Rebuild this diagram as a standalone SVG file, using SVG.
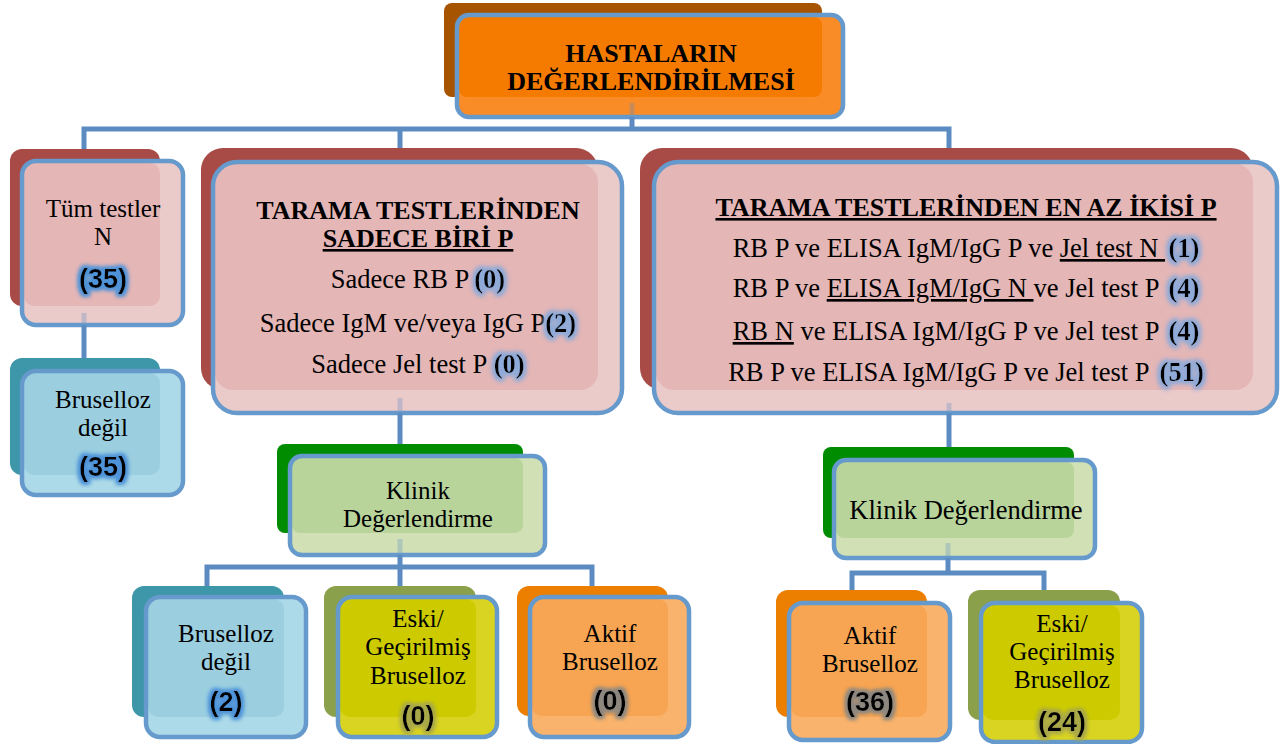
<svg xmlns="http://www.w3.org/2000/svg" width="1282" height="744" viewBox="0 0 1282 744">
<defs>
<style>
.t{font-family:"Liberation Serif","Times New Roman",serif;font-size:26.5px;fill:#000}
.k{font-size:25px}
.m{text-anchor:middle}
.b{font-weight:bold;font-size:26px}
.u{text-decoration:underline}
.n{font-family:"Liberation Serif","Times New Roman",serif;font-size:26.5px;font-weight:bold;fill:#000}
.s{font-family:"Liberation Sans",Arial,sans-serif;font-weight:bold;font-size:27px;text-anchor:middle;fill:#000}
.fs{fill:none;stroke:#6699cc;stroke-width:4.5}
.c{fill:none;stroke:#5b8bc1;stroke-width:5}
.cs{fill:none;stroke:#5b8bc1;stroke-width:5;opacity:0.3}
</style>
<filter id="gS" x="-40%" y="-40%" width="180%" height="180%"><feMorphology in="SourceAlpha" operator="dilate" radius="1.5" result="d"/><feGaussianBlur in="d" stdDeviation="2.5" result="b"/><feFlood flood-color="#8eaad8"/><feComposite in2="b" operator="in" result="g"/><feMerge><feMergeNode in="g"/><feMergeNode in="g"/><feMergeNode in="SourceGraphic"/></feMerge></filter>
<filter id="gB" x="-40%" y="-40%" width="180%" height="180%"><feMorphology in="SourceAlpha" operator="dilate" radius="2" result="d"/><feGaussianBlur in="d" stdDeviation="2.2" result="b"/><feFlood flood-color="#4f93d8"/><feComposite in2="b" operator="in" result="g"/><feMerge><feMergeNode in="g"/><feMergeNode in="g"/><feMergeNode in="SourceGraphic"/></feMerge></filter>
<filter id="gY" x="-40%" y="-40%" width="180%" height="180%"><feMorphology in="SourceAlpha" operator="dilate" radius="2" result="d"/><feGaussianBlur in="d" stdDeviation="2.2" result="b"/><feFlood flood-color="#a9a84a"/><feComposite in2="b" operator="in" result="g"/><feMerge><feMergeNode in="g"/><feMergeNode in="g"/><feMergeNode in="SourceGraphic"/></feMerge></filter>
<filter id="gG" x="-40%" y="-40%" width="180%" height="180%"><feMorphology in="SourceAlpha" operator="dilate" radius="2" result="d"/><feGaussianBlur in="d" stdDeviation="2.2" result="b"/><feFlood flood-color="#8c8780"/><feComposite in2="b" operator="in" result="g"/><feMerge><feMergeNode in="g"/><feMergeNode in="g"/><feMergeNode in="SourceGraphic"/></feMerge></filter>
</defs>

<g id="header">
<rect x="444" y="3" width="378" height="94" rx="8" fill="#a65400"/>
<rect x="457" y="15" width="386" height="102" rx="12" fill="#fa8c28"/>
<rect x="459" y="17" width="363" height="80" rx="8" fill="#f57b00"/>
<rect x="457" y="15" width="386" height="102" rx="12" class="fs"/>
<text class="t b m" x="651" y="62" font-size="25.5">HASTALARIN</text>
<text class="t b m" x="651" y="90" font-size="25.5">DEĞERLENDİRİLMESİ</text>
</g>

<g id="tum-testler">
<rect x="10" y="149" width="150" height="157" rx="12" fill="#a84a45"/>
<rect x="22" y="161" width="161" height="164" rx="14" fill="#ebcaca"/>
<rect x="24" y="163" width="136" height="143" rx="10" fill="#e4b6b6"/>
<rect x="22" y="161" width="161" height="164" rx="14" class="fs"/>
<text class="t k m" x="103" y="217">Tüm testler</text>
<text class="t k m" x="103" y="245">N</text>
<text class="s" x="103" y="288" filter="url(#gB)">(35)</text>
</g>

<g id="bruselloz-degil-1">
<rect x="10" y="358" width="150" height="117" rx="12" fill="#3e96a9"/>
<rect x="22" y="371" width="161" height="124" rx="14" fill="#acdae8"/>
<rect x="24" y="373" width="136" height="102" rx="10" fill="#9bcfe0"/>
<rect x="22" y="371" width="161" height="124" rx="14" class="fs"/>
<text class="t k m" x="103" y="408">Bruselloz</text>
<text class="t k m" x="103" y="436">değil</text>
<text class="s" x="103" y="476" filter="url(#gB)">(35)</text>
</g>

<g id="sadece-biri">
<rect x="201" y="148" width="397" height="242" rx="22" fill="#a84a45"/>
<rect x="213" y="162" width="409" height="251" rx="24" fill="#ebcaca"/>
<rect x="215" y="164" width="383" height="226" rx="18" fill="#e4b6b6"/>
<rect x="213" y="162" width="409" height="251" rx="24" class="fs"/>
<text class="t b m" x="418" y="219" font-size="25.5">TARAMA TESTLERİNDEN</text>
<text class="t b m u" x="418" y="247" font-size="25.5">SADECE BİRİ P</text>
<text class="t" x="330.8" y="288">Sadece RB P</text>
<text class="n" x="474.2" y="288" filter="url(#gS)">(0)</text>
<text class="t" x="259.8" y="332">Sadece IgM ve/veya IgG P</text>
<text class="n" x="545.3" y="332" filter="url(#gS)">(2)</text>
<text class="t" x="311.3" y="373">Sadece Jel test P</text>
<text class="n" x="493.8" y="373" filter="url(#gS)">(0)</text>
</g>

<g id="en-az-ikisi">
<rect x="640" y="148" width="613" height="242" rx="22" fill="#a84a45"/>
<rect x="654" y="162" width="623" height="251" rx="24" fill="#ebcaca"/>
<rect x="656" y="164" width="597" height="226" rx="18" fill="#e4b6b6"/>
<rect x="654" y="162" width="623" height="251" rx="24" class="fs"/>
<text class="t b m u" x="966" y="216">TARAMA TESTLERİNDEN EN AZ İKİSİ P</text>
<text class="t" x="732.7" y="257">RB P ve ELISA IgM/IgG P ve <tspan class="u">Jel test N&#160;</tspan></text>
<text class="n" x="1168.5" y="257" filter="url(#gS)">(1)</text>
<text class="t" x="732.7" y="297">RB P ve <tspan class="u">ELISA IgM/IgG N </tspan>ve Jel test P</text>
<text class="n" x="1168.5" y="297" filter="url(#gS)">(4)</text>
<text class="t" x="732.7" y="340"><tspan class="u">RB N</tspan> ve ELISA IgM/IgG P ve Jel test P</text>
<text class="n" x="1168.5" y="340" filter="url(#gS)">(4)</text>
<text class="t" x="728.2" y="381">RB P ve ELISA IgM/IgG P ve Jel test P</text>
<text class="n" x="1159.6" y="381" filter="url(#gS)">(51)</text>
</g>

<g id="klinik-1">
<rect x="277" y="444" width="246" height="89" rx="8" fill="#008c00"/>
<rect x="290" y="456" width="255" height="99" rx="12" fill="#d2e1b5"/>
<rect x="292" y="458" width="231" height="75" rx="8" fill="#b8d49b"/>
<rect x="290" y="456" width="255" height="99" rx="12" class="fs"/>
<text class="t k m" x="418" y="499">Klinik</text>
<text class="t k m" x="418" y="527">Değerlendirme</text>
</g>

<g id="klinik-2">
<rect x="823" y="447" width="251" height="91" rx="8" fill="#008c00"/>
<rect x="834" y="460" width="261" height="98" rx="12" fill="#d2e1b5"/>
<rect x="836" y="462" width="238" height="76" rx="8" fill="#b8d49b"/>
<rect x="834" y="460" width="261" height="98" rx="12" class="fs"/>
<text class="t m" x="966" y="519">Klinik Değerlendirme</text>
</g>

<g id="bruselloz-degil-2">
<rect x="132" y="586" width="152" height="131" rx="12" fill="#3e96a9"/>
<rect x="146" y="597" width="160" height="140" rx="14" fill="#acdae8"/>
<rect x="148" y="599" width="136" height="118" rx="10" fill="#9bcfe0"/>
<rect x="146" y="597" width="160" height="140" rx="14" class="fs"/>
<text class="t k m" x="226" y="642">Bruselloz</text>
<text class="t k m" x="226" y="670">değil</text>
<text class="s" x="226" y="711" filter="url(#gB)">(2)</text>
</g>

<g id="eski-1">
<rect x="324" y="586" width="152" height="131" rx="12" fill="#8ba04a"/>
<rect x="338" y="597" width="159" height="140" rx="14" fill="#d9d421"/>
<rect x="340" y="599" width="136" height="118" rx="10" fill="#cdcb00"/>
<rect x="338" y="597" width="159" height="140" rx="14" class="fs"/>
<text class="t k m" x="418" y="627">Eski/</text>
<text class="t k m" x="418" y="655">Geçirilmiş</text>
<text class="t k m" x="418" y="684">Bruselloz</text>
<text class="s" x="418" y="725" filter="url(#gY)">(0)</text>
</g>

<g id="aktif-1">
<rect x="517" y="586" width="151" height="130" rx="12" fill="#ec7f00"/>
<rect x="530" y="597" width="159" height="140" rx="14" fill="#f9b36c"/>
<rect x="532" y="599" width="136" height="117" rx="10" fill="#f7a552"/>
<rect x="530" y="597" width="159" height="140" rx="14" class="fs"/>
<text class="t k m" x="610" y="642">Aktif</text>
<text class="t k m" x="610" y="670">Bruselloz</text>
<text class="s" x="610" y="710" filter="url(#gG)">(0)</text>
</g>

<g id="aktif-2">
<rect x="776" y="590" width="151" height="127" rx="12" fill="#ec7f00"/>
<rect x="789" y="603" width="161" height="137" rx="14" fill="#f9b36c"/>
<rect x="791" y="605" width="136" height="112" rx="10" fill="#f7a552"/>
<rect x="789" y="603" width="161" height="137" rx="14" class="fs"/>
<text class="t k m" x="870" y="644">Aktif</text>
<text class="t k m" x="870" y="672">Bruselloz</text>
<text class="s" x="870" y="711" filter="url(#gG)">(36)</text>
</g>

<g id="eski-2">
<rect x="968" y="590" width="152" height="130" rx="12" fill="#8ba04a"/>
<rect x="981" y="603" width="161" height="139" rx="14" fill="#d9d421"/>
<rect x="983" y="605" width="137" height="115" rx="10" fill="#cdcb00"/>
<rect x="981" y="603" width="161" height="139" rx="14" class="fs"/>
<text class="t k m" x="1062" y="632">Eski/</text>
<text class="t k m" x="1062" y="660">Geçirilmiş</text>
<text class="t k m" x="1062" y="688">Bruselloz</text>
<text class="s" x="1062" y="731" filter="url(#gY)">(24)</text>
</g>

<g id="connectors">
<path class="c" d="M632,117 V129"/>
<path class="c" d="M84,149 V129 H949 V148"/>
<path class="c" d="M400,129 V148"/>
<path class="c" d="M84,325 V358"/>
<path class="c" d="M400,413 V444"/>
<path class="c" d="M949,413 V447"/>
<path class="c" d="M207,586 V567 H592 V586"/>
<path class="c" d="M400,555 V586"/>
<path class="c" d="M852,590 V573 H1044 V590"/>
<path class="c" d="M948,558 V573"/>
<path class="cs" d="M632,103 V115"/>
<path class="cs" d="M84,313 V323"/>
<path class="cs" d="M400,398 V411"/>
<path class="cs" d="M949,403 V411"/>
<path class="cs" d="M400,539 V553"/>
<path class="cs" d="M948,543 V556"/>
</g>
</svg>
